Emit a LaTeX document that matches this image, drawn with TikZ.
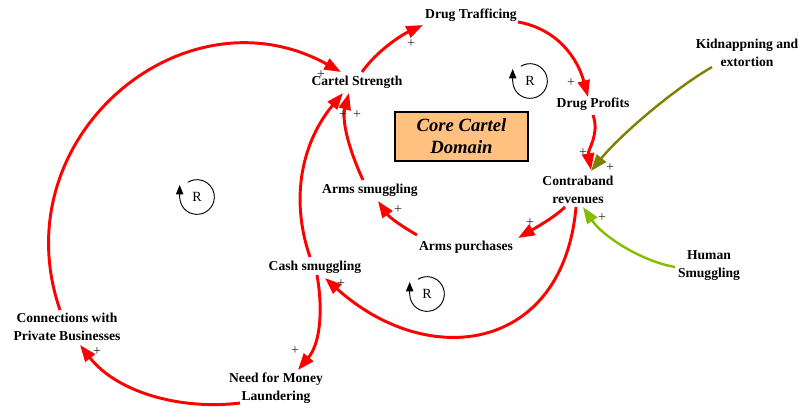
\documentclass[tikz,border=0pt]{standalone}
\usepackage{fontspec}
\setmainfont{Liberation Serif}
\usepackage{xcolor}
\usetikzlibrary{arrows.meta}
\definecolor{linkred}{RGB}{255,0,0}
\definecolor{kidolive}{RGB}{128,128,0}
\definecolor{humgreen}{RGB}{132,190,0}
\definecolor{corefill}{RGB}{255,192,128}

\begin{document}
\begin{tikzpicture}
[x=0.75pt,y=0.75pt,
var/.style={align=center,inner sep=1pt,font=\bfseries\fontsize{10.2}{13.5}\selectfont},
core/.style={rectangle,draw=black,fill=corefill,line width=0.8pt,minimum width=99.75pt,minimum height=36.75pt,align=center,font=\bfseries\itshape\fontsize{14}{16.5}\selectfont},
plus/.style={inner sep=0pt,text=black!85,font=\fontsize{10.5}{10.5}\selectfont},
rsym/.style={inner sep=0pt,font=\fontsize{10.5}{10.5}\selectfont},
link/.style={draw=linkred,line width=2.2pt,-{Triangle[length=12.5pt,width=9pt]}},
kidl/.style={draw=kidolive,line width=1.8pt,-{Triangle[length=12.5pt,width=9pt]}},
huml/.style={draw=humgreen,line width=1.8pt,-{Triangle[length=12.5pt,width=9pt]}},
loopsym/.style={draw=black,line width=0.7pt,-{Triangle[length=7pt,width=5.5pt]}}]

\useasboundingbox (0,0) rectangle (798,-412);

% variables
\node at (471,-15)    [var] (traf)     {Drug Trafficing};
\node at (357,-82)    [var] (cartel)   {Cartel Strength};
\node at (593,-104)   [var] (profits)  {Drug Profits};
\node at (578,-190)   [var] (contra)   {Contraband\\revenues};
\node at (370,-190)   [var] (armsmug)  {Arms smuggling};
\node at (466,-247)   [var] (armspur)  {Arms purchases};
\node at (315,-267)   [var] (cashsmug) {Cash smuggling};
\node at (67,-326.5)  [var] (conn)     {Connections with\\Private Businesses};
\node at (276,-388)   [var] (launder)  {Need for Money\\Laundering};
\node at (747,-52.5)  [var] (kidnap)   {Kidnappning and\\extortion};
\node at (709,-265.5) [var] (human)    {Human\\Smuggling};
\node at (461.5,-136.5) [core] (domain) {Core Cartel\\Domain};

% links
\draw [link] ([shift={(5,10)}]cartel.center) .. controls +(55:25) and +(205:25) .. ([shift={(-48,-10)}]traf.center);
\draw [link] ([shift={(47,-7)}]traf.center) .. controls +(-10:40) and +(105:40) .. ([shift={(-5,7)}]profits.center);
\draw [link] ([shift={(0,-11)}]profits.center) .. controls +(-70:20) and +(100:20) .. ([shift={(13,20)}]contra.center);
\draw [kidl] ([shift={(-35,-14.5)}]kidnap.center) .. controls +(-150:45) and +(51:45) .. ([shift={(13,19)}]contra.center);
\draw [huml] ([shift={(-34,-1.5)}]human.center) .. controls +(170:35) and +(-56:35) .. ([shift={(5,-17)}]contra.center);
\draw [link] ([shift={(-13,-17)}]contra.center) .. controls +(-135:15) and +(30:15) .. ([shift={(52,9)}]armspur.center);
\draw [link] ([shift={(-49,12)}]armspur.center) .. controls +(150:20) and +(-55:20) .. ([shift={(8,-11)}]armsmug.center);
\draw [link] ([shift={(-7,10)}]armsmug.center) .. controls +(115:30) and +(-105:30) .. ([shift={(-8,-11)}]cartel.center);
\draw [link] ([shift={(-5,10)}]cashsmug.center) .. controls +(109:64) and +(-130:62) .. ([shift={(-14,-11)}]cartel.center);
\draw [link] ([shift={(-2,-17)}]contra.center) .. controls +(-95:145) and +(-42:140) .. ([shift={(10,-11)}]cashsmug.center);
\draw [link] ([shift={(2,-8)}]cashsmug.center) .. controls +(-80:35) and +(50:35) .. ([shift={(22,18)}]launder.center);
\draw [link] ([shift={(-36,-15)}]launder.center) .. controls +(187:60) and +(-52:60) .. ([shift={(13,-18.5)}]conn.center);
\draw [link] ([shift={(-7,16.5)}]conn.center) .. controls +(109:182) and +(151:180) .. ([shift={(-16,10)}]cartel.center);

% polarities
\node at (411,-44)  [plus] (pl1)  {+};
\node at (571,-83)  [plus] (pl2)  {+};
\node at (583,-153) [plus] (pl3)  {+};
\node at (610,-168) [plus] (pl4)  {+};
\node at (602,-218) [plus] (pl5)  {+};
\node at (530,-223) [plus] (pl6)  {+};
\node at (398,-210) [plus] (pl7)  {+};
\node at (357,-115) [plus] (pl8)  {+};
\node at (343,-115) [plus] (pl9)  {+};
\node at (341,-284) [plus] (pl10) {+};
\node at (295,-351) [plus] (pl11) {+};
\node at (97,-352)  [plus] (pl12) {+};
\node at (321,-75)  [plus] (pl13) {+};

% loop markers
\node at (530,-81)  [rsym] (loopa) {R};
\node at (197,-197) [rsym] (loopb) {R};
\node at (427,-294) [rsym] (loopc) {R};
\foreach \lp in {loopa,loopb,loopc}
  \draw [loopsym] (\lp.center) ++(122:13pt) arc[start angle=122,end angle=-180,radius=13pt] -- ++(0,9pt);
\end{tikzpicture}
\end{document}
